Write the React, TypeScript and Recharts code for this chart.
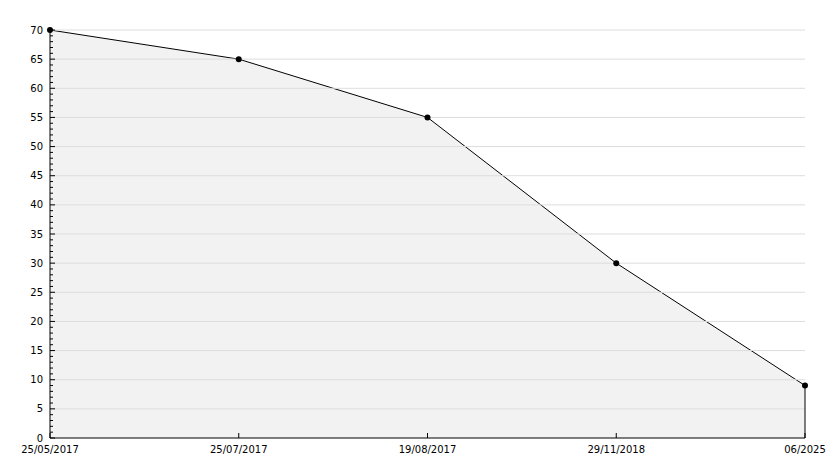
import { AreaChart, Area, XAxis, YAxis, ReferenceLine } from "recharts";

const dates = ["25/05/2017", "25/07/2017", "19/08/2017", "29/11/2018", "06/2025"];
const values = [70, 65, 55, 30, 9];
const majorTicks = [0, 5, 10, 15, 20, 25, 30, 35, 40, 45, 50, 55, 60, 65, 70];

const data = dates.map((date, i) => ({ date, value: values[i] }));

// one tick per unit, labels only on the majors
const allTicks: number[] = [];
for (let v = 0; v <= 70; v++) allTicks.push(v);

const FONT = "'DejaVu Sans', sans-serif";

const YTick = (props: any) => {
    const { x, y, payload } = props;
    const major = payload.value % 5 === 0;
    return (
        <g>
            <line x1={x} y1={y} x2={x + (major ? 5 : 3)} y2={y} stroke="#000" />
            {major && (
                <text x={x - 7} y={y} dy="0.35em" textAnchor="end" fontSize={10} fontFamily={FONT} fill="#000">
                    {payload.value}
                </text>
            )}
        </g>
    );
};

const XTick = (props: any) => {
    const { x, y, payload } = props;
    return (
        <g>
            <line x1={x} y1={y} x2={x} y2={y - 5} stroke="#000" />
            <text x={x} y={y + 7} dy="0.75em" textAnchor="middle" fontSize={10} fontFamily={FONT} fill="#000">
                {payload.value}
            </text>
        </g>
    );
};

export default function App() {
    const last = data[data.length - 1];
    return (
        <div style={{ position: "absolute", left: 0, top: 0, background: "#fff" }}>
            <AreaChart
                width={834}
                height={468}
                data={data}
                margin={{ top: 30, right: 29, bottom: 0, left: 0 }}
            >
                {majorTicks.slice(1).map((v) => (
                    <ReferenceLine key={v} y={v} stroke="#dddddd" strokeWidth={1} />
                ))}
                <XAxis
                    dataKey="date"
                    interval={0}
                    height={30}
                    tickSize={0}
                    tickMargin={0}
                    tickLine={false}
                    tick={<XTick />}
                    axisLine={{ stroke: "#000" }}
                />
                <YAxis
                    type="number"
                    domain={[0, 70]}
                    ticks={allTicks}
                    interval={0}
                    width={50}
                    tickSize={0}
                    tickMargin={0}
                    tickLine={false}
                    tick={<YTick />}
                    axisLine={{ stroke: "#000" }}
                />
                <Area
                    type="linear"
                    dataKey="value"
                    stroke="#000"
                    strokeWidth={1}
                    fill="#f2f2f2"
                    fillOpacity={1}
                    dot={{ r: 3, fill: "#000", stroke: "none" }}
                    activeDot={false}
                    isAnimationActive={false}
                />
                <ReferenceLine
                    segment={[
                        { x: last.date, y: 0 },
                        { x: last.date, y: last.value },
                    ]}
                    stroke="#000"
                />
            </AreaChart>
        </div>
    );
}
